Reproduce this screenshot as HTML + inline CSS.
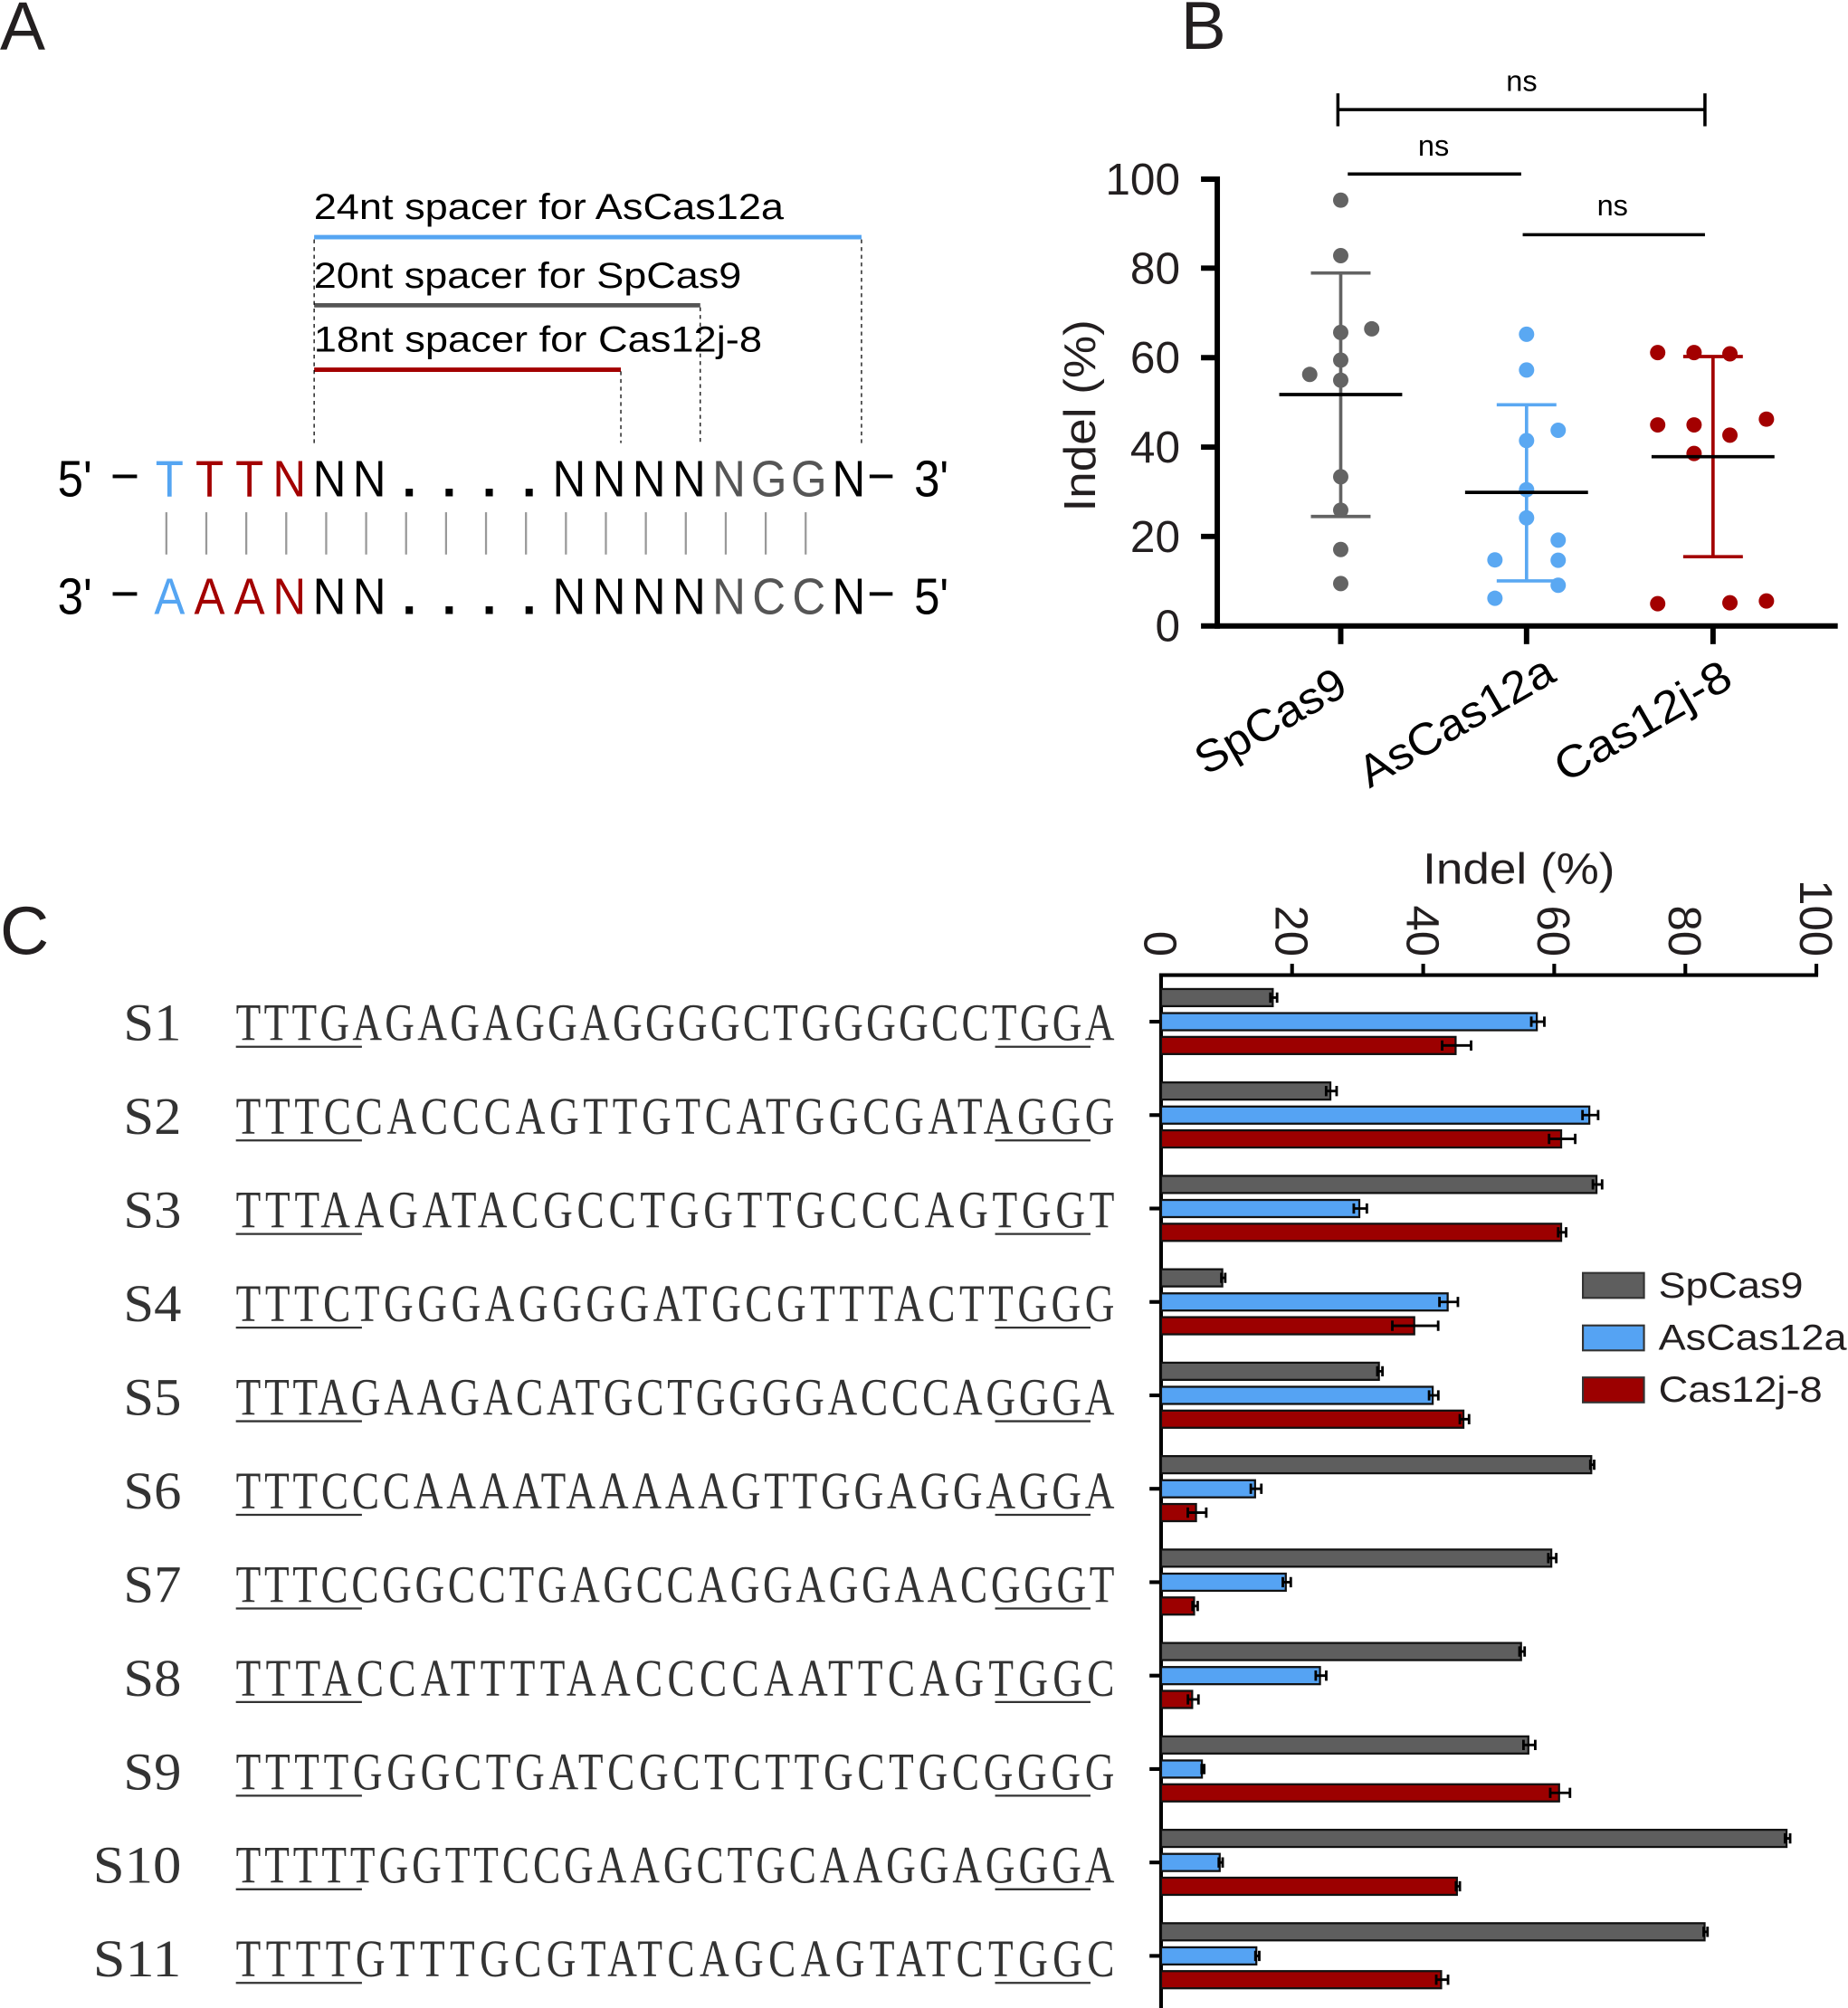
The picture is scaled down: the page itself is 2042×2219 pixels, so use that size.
<!DOCTYPE html>
<html><head><meta charset="utf-8"><style>
html,body{margin:0;padding:0;background:#fff;}
svg{display:block;}
</style></head><body>
<svg width="2042" height="2219" viewBox="0 0 1443 1568" preserveAspectRatio="none" xmlns="http://www.w3.org/2000/svg" font-family="'Liberation Sans', Arial, sans-serif">
<rect width="1443" height="1568" fill="#fff"/>
<!-- Panel letters -->
<text x="0" y="38.5" font-size="53" fill="#231f20">A</text>
<text x="922" y="38" font-size="53" fill="#231f20">B</text>
<text x="0" y="745" font-size="53" fill="#231f20">C</text>

<!-- ============ Panel A ============ -->
<text x="245" y="171" font-size="28" textLength="367" lengthAdjust="spacingAndGlyphs" fill="#000">24nt spacer for AsCas12a</text>
<line x1="245.3" y1="185.2" x2="672.7" y2="185.2" stroke="#55a5f2" stroke-width="3.4"/>
<text x="245" y="224.8" font-size="28" textLength="334" lengthAdjust="spacingAndGlyphs" fill="#000">20nt spacer for SpCas9</text>
<line x1="245.3" y1="238.4" x2="546.8" y2="238.4" stroke="#555" stroke-width="3.4"/>
<text x="245" y="274.7" font-size="28" textLength="350" lengthAdjust="spacingAndGlyphs" fill="#000">18nt spacer for Cas12j-8</text>
<line x1="245.3" y1="288.7" x2="484.8" y2="288.7" stroke="#a30000" stroke-width="3.4"/>
<g stroke="#000" stroke-width="0.9" stroke-dasharray="3,3" fill="none">
<line x1="245.3" y1="187" x2="245.3" y2="348"/>
<line x1="484.8" y1="290" x2="484.8" y2="346"/>
<line x1="546.8" y1="240" x2="546.8" y2="346"/>
<line x1="672.7" y1="187" x2="672.7" y2="348"/>
</g>

<!-- top strand -->
<g font-size="40" text-anchor="middle">
<text transform="translate(45,387.6) scale(0.9,1)" text-anchor="start" fill="#000">5'</text>
<rect x="88" y="370.6" width="19" height="2.8" fill="#000"/>
<text transform="translate(132.4,387.6) scale(0.9,1)" fill="#55a5f2">T</text>
<text transform="translate(163.6,387.6) scale(0.9,1)" fill="#a30000">T</text>
<text transform="translate(194.8,387.6) scale(0.9,1)" fill="#a30000">T</text>
<text transform="translate(226,387.6) scale(0.9,1)" fill="#a30000">N</text>
<text transform="translate(257.2,387.6) scale(0.9,1)" fill="#000">N</text>
<text transform="translate(288.4,387.6) scale(0.9,1)" fill="#000">N</text>
<text transform="translate(319.6,387.6)" fill="#000" font-weight="bold">.</text>
<text transform="translate(350.8,387.6)" fill="#000" font-weight="bold">.</text>
<text transform="translate(382,387.6)" fill="#000" font-weight="bold">.</text>
<text transform="translate(413.2,387.6)" fill="#000" font-weight="bold">.</text>
<text transform="translate(444.4,387.6) scale(0.9,1)" fill="#000">N</text>
<text transform="translate(475.6,387.6) scale(0.9,1)" fill="#000">N</text>
<text transform="translate(506.8,387.6) scale(0.9,1)" fill="#000">N</text>
<text transform="translate(538,387.6) scale(0.9,1)" fill="#000">N</text>
<text transform="translate(569.2,387.6) scale(0.9,1)" fill="#555">N</text>
<text transform="translate(600.4,387.6) scale(0.9,1)" fill="#555">G</text>
<text transform="translate(631.6,387.6) scale(0.9,1)" fill="#555">G</text>
<text transform="translate(662.8,387.6) scale(0.9,1)" fill="#000">N</text>
<rect x="679" y="370.6" width="18" height="2.8" fill="#000"/>
<text transform="translate(713.8,387.6) scale(0.9,1)" text-anchor="start" fill="#000">3'</text>
</g>
<!-- base pair bars -->
<g stroke="#999" stroke-width="1.6">
<line x1="129.9" y1="400" x2="129.9" y2="433"/>
<line x1="161.1" y1="400" x2="161.1" y2="433"/>
<line x1="192.3" y1="400" x2="192.3" y2="433"/>
<line x1="223.5" y1="400" x2="223.5" y2="433"/>
<line x1="254.7" y1="400" x2="254.7" y2="433"/>
<line x1="285.9" y1="400" x2="285.9" y2="433"/>
<line x1="317.1" y1="400" x2="317.1" y2="433"/>
<line x1="348.3" y1="400" x2="348.3" y2="433"/>
<line x1="379.5" y1="400" x2="379.5" y2="433"/>
<line x1="410.7" y1="400" x2="410.7" y2="433"/>
<line x1="441.9" y1="400" x2="441.9" y2="433"/>
<line x1="473.1" y1="400" x2="473.1" y2="433"/>
<line x1="504.3" y1="400" x2="504.3" y2="433"/>
<line x1="535.5" y1="400" x2="535.5" y2="433"/>
<line x1="566.7" y1="400" x2="566.7" y2="433"/>
<line x1="597.9" y1="400" x2="597.9" y2="433"/>
<line x1="629.1" y1="400" x2="629.1" y2="433"/>
</g>
<!-- bottom strand -->
<g font-size="40" text-anchor="middle">
<text transform="translate(45,479.4) scale(0.9,1)" text-anchor="start" fill="#000">3'</text>
<rect x="88" y="462.4" width="19" height="2.8" fill="#000"/>
<text transform="translate(132.4,479.4) scale(0.9,1)" fill="#55a5f2">A</text>
<text transform="translate(163.6,479.4) scale(0.9,1)" fill="#a30000">A</text>
<text transform="translate(194.8,479.4) scale(0.9,1)" fill="#a30000">A</text>
<text transform="translate(226,479.4) scale(0.9,1)" fill="#a30000">N</text>
<text transform="translate(257.2,479.4) scale(0.9,1)" fill="#000">N</text>
<text transform="translate(288.4,479.4) scale(0.9,1)" fill="#000">N</text>
<text transform="translate(319.6,479.4)" fill="#000" font-weight="bold">.</text>
<text transform="translate(350.8,479.4)" fill="#000" font-weight="bold">.</text>
<text transform="translate(382,479.4)" fill="#000" font-weight="bold">.</text>
<text transform="translate(413.2,479.4)" fill="#000" font-weight="bold">.</text>
<text transform="translate(444.4,479.4) scale(0.9,1)" fill="#000">N</text>
<text transform="translate(475.6,479.4) scale(0.9,1)" fill="#000">N</text>
<text transform="translate(506.8,479.4) scale(0.9,1)" fill="#000">N</text>
<text transform="translate(538,479.4) scale(0.9,1)" fill="#000">N</text>
<text transform="translate(569.2,479.4) scale(0.9,1)" fill="#555">N</text>
<text transform="translate(600.4,479.4) scale(0.9,1)" fill="#555">C</text>
<text transform="translate(631.6,479.4) scale(0.9,1)" fill="#555">C</text>
<text transform="translate(662.8,479.4) scale(0.9,1)" fill="#000">N</text>
<rect x="679" y="462.4" width="18" height="2.8" fill="#000"/>
<text transform="translate(713.8,479.4) scale(0.9,1)" text-anchor="start" fill="#000">5'</text>
</g>

<!-- ============ Panel B ============ -->
<g stroke="#000" stroke-width="2.5">
<line x1="1044.7" y1="85.6" x2="1331.3" y2="85.6"/>
<line x1="1044.7" y1="72.9" x2="1044.7" y2="98.6"/>
<line x1="1331.3" y1="72.9" x2="1331.3" y2="98.6"/>
<line x1="1052.4" y1="135.9" x2="1187.8" y2="135.9"/>
<line x1="1189" y1="183.3" x2="1331.3" y2="183.3"/>
</g>
<g font-size="23" text-anchor="middle" fill="#000">
<text x="1188.2" y="71">ns</text>
<text x="1119.4" y="121.6">ns</text>
<text x="1259.1" y="168.2">ns</text>
</g>
<g stroke="#000" stroke-width="4.2">
<line x1="950.5" y1="137.8" x2="950.5" y2="490.9"/>
<line x1="937.8" y1="488.8" x2="1435" y2="488.8"/>
<line x1="937.8" y1="418.9" x2="950.5" y2="418.9"/>
<line x1="937.8" y1="349.1" x2="950.5" y2="349.1"/>
<line x1="937.8" y1="279.3" x2="950.5" y2="279.3"/>
<line x1="937.8" y1="209.4" x2="950.5" y2="209.4"/>
<line x1="937.8" y1="139.9" x2="950.5" y2="139.9"/>
<line x1="1046.9" y1="488.8" x2="1046.9" y2="503"/>
<line x1="1192" y1="488.8" x2="1192" y2="503"/>
<line x1="1337.6" y1="488.8" x2="1337.6" y2="503"/>
</g>
<g font-size="35" text-anchor="end" fill="#231f20">
<text x="921.5" y="500.8">0</text>
<text x="921.5" y="430.9">20</text>
<text x="921.5" y="361.1">40</text>
<text x="921.5" y="291.3">60</text>
<text x="921.5" y="221.4">80</text>
<text x="921.5" y="151.9">100</text>
</g>
<text transform="translate(843,324.6) rotate(-90)" y="12" font-size="35" text-anchor="middle" textLength="150" lengthAdjust="spacingAndGlyphs" fill="#231f20">Indel (%)</text>
<g font-size="35" text-anchor="middle" fill="#000">
<text transform="translate(991.9,563) rotate(-30)" y="12" textLength="130" lengthAdjust="spacingAndGlyphs">SpCas9</text>
<text transform="translate(1137,563) rotate(-30)" y="12" textLength="170" lengthAdjust="spacingAndGlyphs">AsCas12a</text>
<text transform="translate(1282.6,563) rotate(-30)" y="12" textLength="153" lengthAdjust="spacingAndGlyphs">Cas12j-8</text>
</g>
<g fill="#636363">
<circle cx="1046.9" cy="156.3" r="6"/>
<circle cx="1046.9" cy="199.6" r="6"/>
<circle cx="1046.9" cy="259.6" r="6"/>
<circle cx="1071.1" cy="256.8" r="6"/>
<circle cx="1046.9" cy="281.2" r="6"/>
<circle cx="1022.7" cy="292.4" r="6"/>
<circle cx="1046.9" cy="296.9" r="6"/>
<circle cx="1046.9" cy="372.3" r="6"/>
<circle cx="1046.9" cy="398.4" r="6"/>
<circle cx="1046.9" cy="429.1" r="6"/>
<circle cx="1046.9" cy="455.7" r="6"/>
</g>
<g stroke="#636363" stroke-width="2.6">
<line x1="1046.9" y1="213.2" x2="1046.9" y2="403.3"/>
<line x1="1023.6" y1="213.2" x2="1070.2" y2="213.2"/>
<line x1="1023.6" y1="403.3" x2="1070.2" y2="403.3"/>
</g>
<line x1="998.9" y1="308.1" x2="1094.9" y2="308.1" stroke="#000" stroke-width="2.6"/>
<g fill="#5aa8f2">
<circle cx="1192" cy="261" r="6"/>
<circle cx="1192" cy="288.9" r="6"/>
<circle cx="1216.7" cy="336" r="6"/>
<circle cx="1192" cy="344" r="6"/>
<circle cx="1192" cy="382.4" r="6"/>
<circle cx="1192" cy="404.4" r="6"/>
<circle cx="1216.7" cy="421.8" r="6"/>
<circle cx="1167.3" cy="437.2" r="6"/>
<circle cx="1216.7" cy="437.5" r="6"/>
<circle cx="1216.7" cy="457" r="6"/>
<circle cx="1167.3" cy="467.2" r="6"/>
</g>
<g stroke="#5aa8f2" stroke-width="2.6">
<line x1="1192" y1="316.1" x2="1192" y2="453.6"/>
<line x1="1168.7" y1="316.1" x2="1215.3" y2="316.1"/>
<line x1="1168.7" y1="453.6" x2="1215.3" y2="453.6"/>
</g>
<line x1="1144" y1="384.5" x2="1240" y2="384.5" stroke="#000" stroke-width="2.6"/>
<g fill="#a30000">
<circle cx="1294.4" cy="275.3" r="6"/>
<circle cx="1322.8" cy="275.3" r="6"/>
<circle cx="1350.8" cy="276.3" r="6"/>
<circle cx="1379.3" cy="327.3" r="6"/>
<circle cx="1294.4" cy="331.8" r="6"/>
<circle cx="1322.8" cy="331.8" r="6"/>
<circle cx="1350.8" cy="339.8" r="6"/>
<circle cx="1322.8" cy="354.1" r="6"/>
<circle cx="1294.4" cy="471.4" r="6"/>
<circle cx="1350.8" cy="470.7" r="6"/>
<circle cx="1379.3" cy="469.3" r="6"/>
</g>
<g stroke="#a30000" stroke-width="2.6">
<line x1="1337.6" y1="278.4" x2="1337.6" y2="434.7"/>
<line x1="1314.3" y1="278.4" x2="1360.9" y2="278.4"/>
<line x1="1314.3" y1="434.7" x2="1360.9" y2="434.7"/>
</g>
<line x1="1289.6" y1="356.6" x2="1385.6" y2="356.6" stroke="#000" stroke-width="2.6"/>

<!-- ============ Panel C ============ -->
<text x="1186" y="690" font-size="34" text-anchor="middle" textLength="150" lengthAdjust="spacingAndGlyphs" fill="#231f20">Indel (%)</text>
<g font-size="36" text-anchor="end" fill="#231f20">
<text transform="translate(893.7,747) rotate(90)">0</text>
<text transform="translate(996,747) rotate(90)">20</text>
<text transform="translate(1098.4,747) rotate(90)">40</text>
<text transform="translate(1200.7,747) rotate(90)">60</text>
<text transform="translate(1303.1,747) rotate(90)">80</text>
<text transform="translate(1405.4,747) rotate(90)">100</text>
</g>
<g stroke="#000" stroke-width="2.9">
<line x1="905.2" y1="761.4" x2="1419.7" y2="761.4"/>
<line x1="906.6" y1="760" x2="906.6" y2="1568"/>
<line x1="1008.9" y1="761.4" x2="1008.9" y2="752.6"/>
<line x1="1111.3" y1="761.4" x2="1111.3" y2="752.6"/>
<line x1="1213.6" y1="761.4" x2="1213.6" y2="752.6"/>
<line x1="1316" y1="761.4" x2="1316" y2="752.6"/>
<line x1="1418.3" y1="761.4" x2="1418.3" y2="752.6"/>
<line x1="897.6" y1="797.8" x2="906.6" y2="797.8"/>
<line x1="897.6" y1="870.75" x2="906.6" y2="870.75"/>
<line x1="897.6" y1="943.7" x2="906.6" y2="943.7"/>
<line x1="897.6" y1="1016.65" x2="906.6" y2="1016.65"/>
<line x1="897.6" y1="1089.6" x2="906.6" y2="1089.6"/>
<line x1="897.6" y1="1162.55" x2="906.6" y2="1162.55"/>
<line x1="897.6" y1="1235.5" x2="906.6" y2="1235.5"/>
<line x1="897.6" y1="1308.45" x2="906.6" y2="1308.45"/>
<line x1="897.6" y1="1381.4" x2="906.6" y2="1381.4"/>
<line x1="897.6" y1="1454.35" x2="906.6" y2="1454.35"/>
<line x1="897.6" y1="1527.3" x2="906.6" y2="1527.3"/>
</g>

<g stroke="#111" stroke-width="1.6">
<g transform="translate(0,797.8)">
<rect x="906.6" y="-25.5" width="87.2" height="13.4" fill="#5e5e5e"/>
<rect x="906.6" y="-6.7" width="293.4" height="13.4" fill="#55a3f3"/>
<rect x="906.6" y="11.9" width="230" height="13.4" fill="#9c0000"/>
<path d="M992 -18.8H997.2M992 -22.8V-14.8M997.2 -22.8V-14.8 M1195.7 0H1205.9M1195.7 -4V4M1205.9 -4V4 M1126.1 18.6H1148.7M1126.1 14.6V22.6M1148.7 14.6V22.6" fill="none" stroke="#000" stroke-width="2"/>
</g>
<g transform="translate(0,870.75)">
<rect x="906.6" y="-25.5" width="132.2" height="13.4" fill="#5e5e5e"/>
<rect x="906.6" y="-6.7" width="334.4" height="13.4" fill="#55a3f3"/>
<rect x="906.6" y="11.9" width="312.4" height="13.4" fill="#9c0000"/>
<path d="M1035.5 -18.8H1043.7M1035.5 -22.8V-14.8M1043.7 -22.8V-14.8 M1235.7 0H1247.9M1235.7 -4V4M1247.9 -4V4 M1209.6 18.6H1230M1209.6 14.6V22.6M1230 14.6V22.6" fill="none" stroke="#000" stroke-width="2"/>
</g>
<g transform="translate(0,943.7)">
<rect x="906.6" y="-25.5" width="340" height="13.4" fill="#5e5e5e"/>
<rect x="906.6" y="-6.7" width="154.8" height="13.4" fill="#55a3f3"/>
<rect x="906.6" y="11.9" width="312.4" height="13.4" fill="#9c0000"/>
<path d="M1243.8 -18.8H1251M1243.8 -22.8V-14.8M1251 -22.8V-14.8 M1057.1 0H1067.3M1057.1 -4V4M1067.3 -4V4 M1216.7 18.6H1222.9M1216.7 14.6V22.6M1222.9 14.6V22.6" fill="none" stroke="#000" stroke-width="2"/>
</g>
<g transform="translate(0,1016.65)">
<rect x="906.6" y="-25.5" width="47.8" height="13.4" fill="#5e5e5e"/>
<rect x="906.6" y="-6.7" width="223.8" height="13.4" fill="#55a3f3"/>
<rect x="906.6" y="11.9" width="197.7" height="13.4" fill="#9c0000"/>
<path d="M953.7 -18.8H956.7M953.7 -22.8V-14.8M956.7 -22.8V-14.8 M1124 0H1138.4M1124 -4V4M1138.4 -4V4 M1087.2 18.6H1123M1087.2 14.6V22.6M1123 14.6V22.6" fill="none" stroke="#000" stroke-width="2"/>
</g>
<g transform="translate(0,1089.6)">
<rect x="906.6" y="-25.5" width="170.1" height="13.4" fill="#5e5e5e"/>
<rect x="906.6" y="-6.7" width="212.1" height="13.4" fill="#55a3f3"/>
<rect x="906.6" y="11.9" width="236.1" height="13.4" fill="#9c0000"/>
<path d="M1075.5 -18.8H1079.5M1075.5 -22.8V-14.8M1079.5 -22.8V-14.8 M1115.9 0H1123.1M1115.9 -4V4M1123.1 -4V4 M1139.9 18.6H1147.1M1139.9 14.6V22.6M1147.1 14.6V22.6" fill="none" stroke="#000" stroke-width="2"/>
</g>
<g transform="translate(0,1162.55)">
<rect x="906.6" y="-25.5" width="335.9" height="13.4" fill="#5e5e5e"/>
<rect x="906.6" y="-6.7" width="73.4" height="13.4" fill="#55a3f3"/>
<rect x="906.6" y="11.9" width="27.3" height="13.4" fill="#9c0000"/>
<path d="M1241.8 -18.8H1244.8M1241.8 -22.8V-14.8M1244.8 -22.8V-14.8 M976.7 0H984.9M976.7 -4V4M984.9 -4V4 M927.5 18.6H941.9M927.5 14.6V22.6M941.9 14.6V22.6" fill="none" stroke="#000" stroke-width="2"/>
</g>
<g transform="translate(0,1235.5)">
<rect x="906.6" y="-25.5" width="304.7" height="13.4" fill="#5e5e5e"/>
<rect x="906.6" y="-6.7" width="97.4" height="13.4" fill="#55a3f3"/>
<rect x="906.6" y="11.9" width="25.8" height="13.4" fill="#9c0000"/>
<path d="M1209 -18.8H1215.2M1209 -22.8V-14.8M1215.2 -22.8V-14.8 M1001.7 0H1007.9M1001.7 -4V4M1007.9 -4V4 M931.2 18.6H935.2M931.2 14.6V22.6M935.2 14.6V22.6" fill="none" stroke="#000" stroke-width="2"/>
</g>
<g transform="translate(0,1308.45)">
<rect x="906.6" y="-25.5" width="281.1" height="13.4" fill="#5e5e5e"/>
<rect x="906.6" y="-6.7" width="124.1" height="13.4" fill="#55a3f3"/>
<rect x="906.6" y="11.9" width="24.3" height="13.4" fill="#9c0000"/>
<path d="M1186.5 -18.8H1190.5M1186.5 -22.8V-14.8M1190.5 -22.8V-14.8 M1027.4 0H1035.6M1027.4 -4V4M1035.6 -4V4 M927.6 18.6H935.8M927.6 14.6V22.6M935.8 14.6V22.6" fill="none" stroke="#000" stroke-width="2"/>
</g>
<g transform="translate(0,1381.4)">
<rect x="906.6" y="-25.5" width="286.8" height="13.4" fill="#5e5e5e"/>
<rect x="906.6" y="-6.7" width="31.9" height="13.4" fill="#55a3f3"/>
<rect x="906.6" y="11.9" width="310.8" height="13.4" fill="#9c0000"/>
<path d="M1189.6 -18.8H1198.8M1189.6 -22.8V-14.8M1198.8 -22.8V-14.8 M938.3 0H940.3M938.3 -4V4M940.3 -4V4 M1210.5 18.6H1225.9M1210.5 14.6V22.6M1225.9 14.6V22.6" fill="none" stroke="#000" stroke-width="2"/>
</g>
<g transform="translate(0,1454.35)">
<rect x="906.6" y="-25.5" width="488.4" height="13.4" fill="#5e5e5e"/>
<rect x="906.6" y="-6.7" width="45.8" height="13.4" fill="#55a3f3"/>
<rect x="906.6" y="11.9" width="231" height="13.4" fill="#9c0000"/>
<path d="M1393.8 -18.8H1397.8M1393.8 -22.8V-14.8M1397.8 -22.8V-14.8 M951.7 0H954.7M951.7 -4V4M954.7 -4V4 M1136.9 18.6H1139.9M1136.9 14.6V22.6M1139.9 14.6V22.6" fill="none" stroke="#000" stroke-width="2"/>
</g>
<g transform="translate(0,1527.3)">
<rect x="906.6" y="-25.5" width="424.4" height="13.4" fill="#5e5e5e"/>
<rect x="906.6" y="-6.7" width="74.4" height="13.4" fill="#55a3f3"/>
<rect x="906.6" y="11.9" width="218.7" height="13.4" fill="#9c0000"/>
<path d="M1330.3 -18.8H1333.3M1330.3 -22.8V-14.8M1333.3 -22.8V-14.8 M980.3 0H983.3M980.3 -4V4M983.3 -4V4 M1121.5 18.6H1130.7M1121.5 14.6V22.6M1130.7 14.6V22.6" fill="none" stroke="#000" stroke-width="2"/>
</g>
</g>

<!-- legend -->
<g stroke="#333" stroke-width="1.5">
<rect x="1236" y="994" width="47.7" height="19.5" fill="#5e5e5e"/>
<rect x="1236" y="1035" width="47.7" height="19.5" fill="#55a3f3"/>
<rect x="1236" y="1075.6" width="47.7" height="19.5" fill="#9c0000"/>
</g>
<g font-size="28" fill="#231f20">
<text x="1295" y="1013.3" textLength="113" lengthAdjust="spacingAndGlyphs">SpCas9</text>
<text x="1295" y="1054" textLength="147" lengthAdjust="spacingAndGlyphs">AsCas12a</text>
<text x="1295" y="1094.5" textLength="128" lengthAdjust="spacingAndGlyphs">Cas12j-8</text>
</g>

<!-- sequences -->
<g font-family="'Liberation Serif', 'Times New Roman', serif" font-size="41" fill="#333">
<text x="96.4" y="812.4" textLength="45.2" lengthAdjust="spacingAndGlyphs">S1</text>
<text transform="translate(184.2,812.4) scale(0.78,1)" textLength="879.5" lengthAdjust="spacing">TTTGAGAGAGGAGGGGCTGGGGCCTGGA</text>
<text x="96.4" y="885.5" textLength="45.2" lengthAdjust="spacingAndGlyphs">S2</text>
<text transform="translate(184.2,885.5) scale(0.78,1)" textLength="879.5" lengthAdjust="spacing">TTTCCACCCAGTTGTCATGGCGATAGGG</text>
<text x="96.4" y="958.6" textLength="45.2" lengthAdjust="spacingAndGlyphs">S3</text>
<text transform="translate(184.2,958.6) scale(0.78,1)" textLength="879.5" lengthAdjust="spacing">TTTAAGATACGCCTGGTTGCCCAGTGGT</text>
<text x="96.4" y="1031.7" textLength="45.2" lengthAdjust="spacingAndGlyphs">S4</text>
<text transform="translate(184.2,1031.7) scale(0.78,1)" textLength="879.5" lengthAdjust="spacing">TTTCTGGGAGGGGATGCGTTTACTTGGG</text>
<text x="96.4" y="1104.8" textLength="45.2" lengthAdjust="spacingAndGlyphs">S5</text>
<text transform="translate(184.2,1104.8) scale(0.78,1)" textLength="879.5" lengthAdjust="spacing">TTTAGAAGACATGCTGGGGACCCAGGGA</text>
<text x="96.4" y="1177.9" textLength="45.2" lengthAdjust="spacingAndGlyphs">S6</text>
<text transform="translate(184.2,1177.9) scale(0.78,1)" textLength="879.5" lengthAdjust="spacing">TTTCCCAAAATAAAAAGTTGGAGGAGGA</text>
<text x="96.4" y="1251" textLength="45.2" lengthAdjust="spacingAndGlyphs">S7</text>
<text transform="translate(184.2,1251) scale(0.78,1)" textLength="879.5" lengthAdjust="spacing">TTTCCGGCCTGAGCCAGGAGGAACGGGT</text>
<text x="96.4" y="1324.1" textLength="45.2" lengthAdjust="spacingAndGlyphs">S8</text>
<text transform="translate(184.2,1324.1) scale(0.78,1)" textLength="879.5" lengthAdjust="spacing">TTTACCATTTTAACCCCAATTCAGTGGC</text>
<text x="96.4" y="1397.2" textLength="45.2" lengthAdjust="spacingAndGlyphs">S9</text>
<text transform="translate(184.2,1397.2) scale(0.78,1)" textLength="879.5" lengthAdjust="spacing">TTTTGGGCTGATCGCTCTTGCTGCGGGG</text>
<text x="72.6" y="1470.3" textLength="69" lengthAdjust="spacingAndGlyphs">S10</text>
<text transform="translate(184.2,1470.3) scale(0.78,1)" textLength="879.5" lengthAdjust="spacing">TTTTTGGTTCCGAAGCTGCAAGGAGGGA</text>
<text x="72.6" y="1543.4" textLength="69" lengthAdjust="spacingAndGlyphs">S11</text>
<text transform="translate(184.2,1543.4) scale(0.78,1)" textLength="879.5" lengthAdjust="spacing">TTTTGTTTGCGTATCAGCAGTATCTGGC</text>
</g>
<!-- underlines -->
<g stroke="#333" stroke-width="1.6">
<line x1="184.2" y1="817.4" x2="282.6" y2="817.4"/><line x1="777" y1="817.4" x2="851.5" y2="817.4"/>
<line x1="184.2" y1="890.5" x2="282.6" y2="890.5"/><line x1="777" y1="890.5" x2="851.5" y2="890.5"/>
<line x1="184.2" y1="963.6" x2="282.6" y2="963.6"/><line x1="777" y1="963.6" x2="851.5" y2="963.6"/>
<line x1="184.2" y1="1036.7" x2="282.6" y2="1036.7"/><line x1="777" y1="1036.7" x2="851.5" y2="1036.7"/>
<line x1="184.2" y1="1109.8" x2="282.6" y2="1109.8"/><line x1="777" y1="1109.8" x2="851.5" y2="1109.8"/>
<line x1="184.2" y1="1182.9" x2="282.6" y2="1182.9"/><line x1="777" y1="1182.9" x2="851.5" y2="1182.9"/>
<line x1="184.2" y1="1256" x2="282.6" y2="1256"/><line x1="777" y1="1256" x2="851.5" y2="1256"/>
<line x1="184.2" y1="1329.1" x2="282.6" y2="1329.1"/><line x1="777" y1="1329.1" x2="851.5" y2="1329.1"/>
<line x1="184.2" y1="1402.2" x2="282.6" y2="1402.2"/><line x1="777" y1="1402.2" x2="851.5" y2="1402.2"/>
<line x1="184.2" y1="1475.3" x2="282.6" y2="1475.3"/><line x1="777" y1="1475.3" x2="851.5" y2="1475.3"/>
<line x1="184.2" y1="1548.4" x2="282.6" y2="1548.4"/><line x1="777" y1="1548.4" x2="851.5" y2="1548.4"/>
</g>
</svg>
</body></html>
